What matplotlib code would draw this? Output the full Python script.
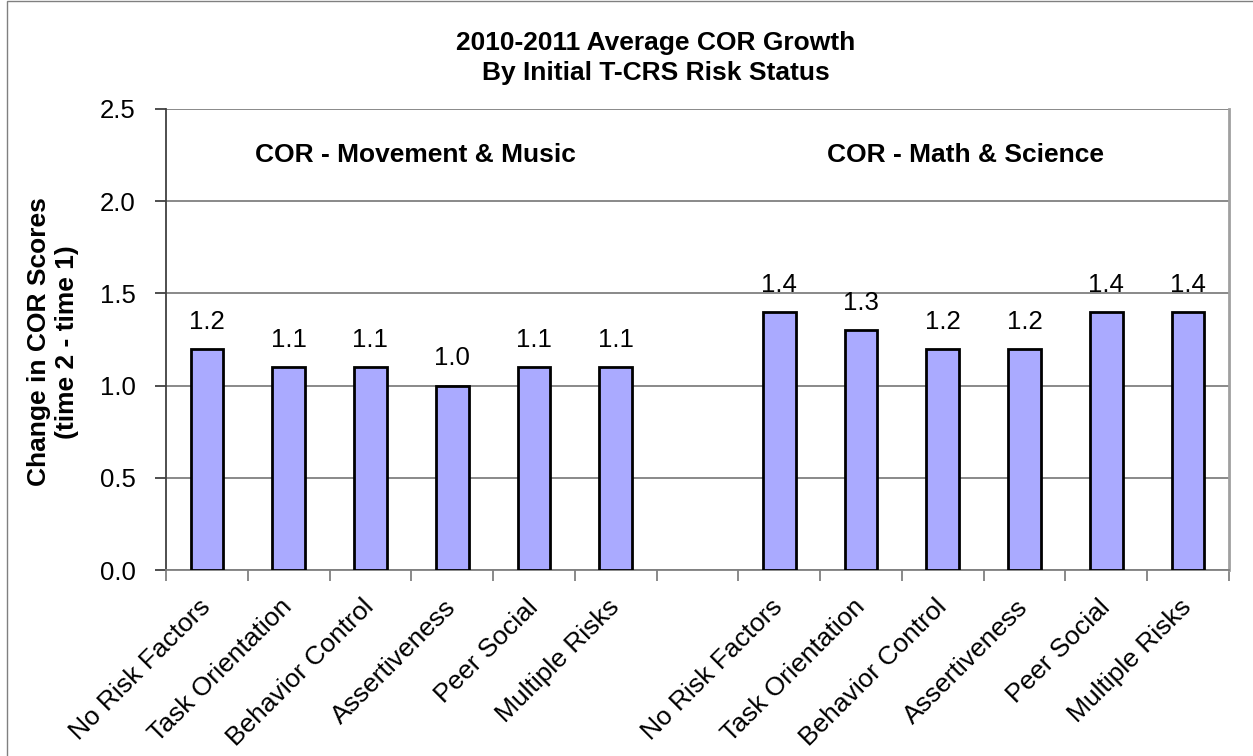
import numpy as np
import matplotlib.pyplot as plt
from matplotlib.patches import Rectangle

plt.rcParams.update(
    {
        "font.family": ["Liberation Sans", "DejaVu Sans"],
        "font.size": 18.5,
        "xtick.color": "#808080",
        "ytick.color": "#404040",
        "xtick.labelcolor": "black",
        "ytick.labelcolor": "black",
    }
)

# %% data
risk_groups = [
    "No Risk Factors",
    "Task Orientation",
    "Behavior Control",
    "Assertiveness",
    "Peer Social",
    "Multiple Risks",
]
movement_music = [1.2, 1.1, 1.1, 1.0, 1.1, 1.1]
math_science = [1.4, 1.3, 1.2, 1.2, 1.4, 1.4]
domain_names = ["COR - Movement & Music", "COR - Math & Science"]
y_ticks = [0.0, 0.5, 1.0, 1.5, 2.0, 2.5]

bar_color = "#AAAAFF"
grid_color = "#808080"

# two groups of bars with one empty slot in between
pos_left = np.arange(len(movement_music))
pos_right = np.arange(len(math_science)) + len(movement_music) + 1
n_slots = len(movement_music) + len(math_science) + 1

# %% plot
fig = plt.figure(figsize=(12.53, 7.56), dpi=100)
ax = fig.add_axes([166 / 1253, 1 - 570 / 756, (1229 - 166) / 1253, (570 - 109) / 756])

for pos, vals in [(pos_left, movement_music), (pos_right, math_science)]:
    bars = ax.bar(pos, vals, width=0.4, color=bar_color, edgecolor="black", linewidth=2, zorder=3)
    for b, v in zip(bars, vals):
        ax.annotate(
            f"{v:.1f}",
            (b.get_x() + b.get_width() / 2, v),
            xytext=(0, 14.5),
            textcoords="offset points",
            ha="center",
            va="baseline",
        )

ax.set_xlim(-0.5, n_slots - 0.5)
ax.set_ylim(0, 2.5)

ax.set_yticks(y_ticks)
ax.set_yticklabels([f"{t:.1f}" for t in y_ticks])
ax.yaxis.grid(True, color=grid_color, linewidth=1.3, zorder=0)

# tick marks sit between categories, labels sit under the bars
ax.set_xticks(np.arange(-0.5, n_slots, 1.0))
ax.set_xticklabels([])
ax.set_xticks(np.concatenate([pos_left, pos_right]), risk_groups + risk_groups, minor=True)
ax.tick_params(axis="x", which="minor", length=0, pad=24, labelsize=19)
ax.tick_params(axis="x", which="major", length=8, width=1.3)
ax.tick_params(axis="y", length=8, width=1.3, pad=14)
for lbl in ax.get_xticklabels(minor=True):
    lbl.set_rotation(45)
    lbl.set_ha("right")
    lbl.set_va("center")
    lbl.set_rotation_mode("anchor")

ax.spines["top"].set_visible(False)
ax.spines["left"].set_color("#404040")
ax.spines["left"].set_linewidth(1.3)
ax.spines["bottom"].set_color(grid_color)
ax.spines["bottom"].set_linewidth(1.3)
ax.spines["right"].set_color("#A0A0A0")
ax.spines["right"].set_linewidth(2)

ax.text(2.55, 2.25, domain_names[0], ha="center", va="center", fontweight="bold", fontsize=19)
ax.text(9.28, 2.25, domain_names[1], ha="center", va="center", fontweight="bold", fontsize=19)

fig.text(
    656 / 1253,
    1 - 58 / 756,
    "2010-2011 Average COR Growth\nBy Initial T-CRS Risk Status",
    ha="center",
    va="center",
    fontweight="bold",
    fontsize=19,
    linespacing=1.35,
)
fig.text(
    53 / 1253,
    1 - 342 / 756,
    "Change in COR Scores\n(time 2 - time 1)",
    ha="center",
    va="center",
    rotation=90,
    fontweight="bold",
    fontsize=19,
    linespacing=1.25,
)

# outer chart frame
fig.patches.append(
    Rectangle((7 / 1253, -0.01), 1.0, 1 - 1 / 756 + 0.01, transform=fig.transFigure,
              fill=False, edgecolor="#808080", linewidth=1)
)

plt.savefig("out.png", dpi=100)
